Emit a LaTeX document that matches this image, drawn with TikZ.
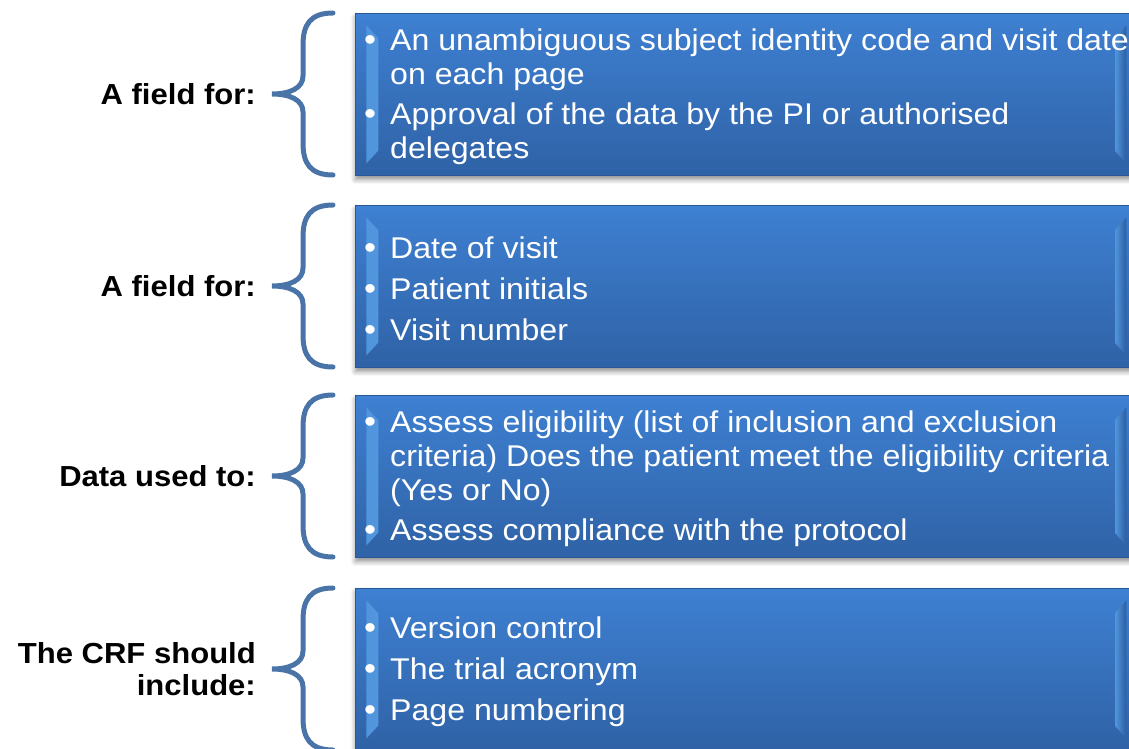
\documentclass[tikz,border=0pt]{standalone}
\usepackage{fontspec}
\setmainfont{Liberation Sans}[FakeStretch=1.07]
\usetikzlibrary{shadows.blur}

\definecolor{boxtop}{HTML}{3E80D2}
\definecolor{boxbot}{HTML}{2F62A6}
\definecolor{boxedge}{HTML}{2B5897}
\definecolor{bevellite}{HTML}{AEE0FF}
\definecolor{bevelmid}{HTML}{4F94DC}
\definecolor{beveldark}{HTML}{2C5C9E}
\definecolor{braceblue}{HTML}{4A74A8}

%% bullet and indent for the box texts
\newcommand{\crfitem}{\makebox[33pt][l]{\hspace{8pt}\makebox[10pt]{\fontsize{32}{32}\selectfont\textbullet}}}
\newcommand{\crfcont}{\hspace*{33pt}}

\begin{document}
\begin{tikzpicture}
[x=1pt,y=-1pt,
  braceDecorate/.style={line width=5pt,draw=braceblue,line cap=round},%
  boxDecorate/.style={rectangle,anchor=north west,inner sep=0pt,
    minimum width=779pt,minimum height=162pt,
    top color=boxtop,bottom color=boxbot,draw=boxedge,line width=0.8pt,
    blur shadow={shadow xshift=0pt,shadow yshift=-4pt,shadow opacity=45,shadow blur radius=5pt},
    path picture={
      \shade[left color=bevelmid,right color=bevellite]
        ([xshift=11pt,yshift=-12pt]path picture bounding box.north west) --
        ([xshift=23pt,yshift=-25pt]path picture bounding box.north west) --
        ([xshift=23pt,yshift=25pt]path picture bounding box.south west) --
        ([xshift=11pt,yshift=12pt]path picture bounding box.south west) -- cycle;
      \shade[left color=bevelmid,right color=beveldark]
        ([xshift=-19pt,yshift=-24pt]path picture bounding box.north east) --
        ([xshift=-8pt,yshift=-12pt]path picture bounding box.north east) --
        ([xshift=-8pt,yshift=12pt]path picture bounding box.south east) --
        ([xshift=-19pt,yshift=24pt]path picture bounding box.south east) -- cycle;
    }},%
  itemDecorate/.style={anchor=west,inner sep=0pt,align=left,text=white,
    font=\fontsize{30}{34}\selectfont},%
  labelDecorate/.style={anchor=east,inner sep=0pt,align=right,
    font=\bfseries\fontsize{29}{32}\selectfont}]
\useasboundingbox (0,0) rectangle (1129,749);
\clip (0,0) rectangle (1129,749);

%% boxes, braces and labels
\foreach \i/\ya/\lbl [evaluate=\ya as \ym using \ya+81,
                      evaluate=\ya as \yb using \ya+162] in {
  1/13/{A field for:}, 2/205/{A field for:},
  3/395/{Data used to:}, 4/588/{The CRF should\\include:}}
{
  \node (box\i) at (355,\ya) [boxDecorate] {};
  \draw[braceDecorate] (333,\ya) .. controls (310,\ya) and (303,\ya+12) .. (303,\ya+32)
    -- (303,\ym-18) .. controls (303,\ym-6) and (290,\ym) .. (272,\ym)
    .. controls (290,\ym) and (303,\ym+6) .. (303,\ym+18)
    -- (303,\yb-32) .. controls (303,\yb-12) and (310,\yb) .. (333,\yb);
  \node (label\i) at (256,\ym) [labelDecorate] {\lbl};
}

%% texts inside the boxes
\node (items1) at ([xshift=2pt,yshift=-2pt]box1.west) [itemDecorate] {%
  \crfitem An unambiguous subject identity code and visit date\\
  \crfcont on each page\\[6pt]
  \crfitem Approval of the data by the PI or authorised\\
  \crfcont delegates};
\node (items2) at ([xshift=2pt,yshift=-2pt]box2.west) [itemDecorate] {%
  \crfitem Date of visit\\[7pt]
  \crfitem Patient initials\\[7pt]
  \crfitem Visit number};
\node (items3) at ([xshift=2pt,yshift=-2pt]box3.west) [itemDecorate] {%
  \crfitem Assess eligibility (list of inclusion and exclusion\\
  \crfcont criteria) Does the patient meet the eligibility criteria\\
  \crfcont (Yes or No)\\[6pt]
  \crfitem Assess compliance with the protocol};
\node (items4) at ([xshift=2pt,yshift=-2pt]box4.west) [itemDecorate] {%
  \crfitem Version control\\[7pt]
  \crfitem The trial acronym\\[7pt]
  \crfitem Page numbering};
\end{tikzpicture}
\end{document}
